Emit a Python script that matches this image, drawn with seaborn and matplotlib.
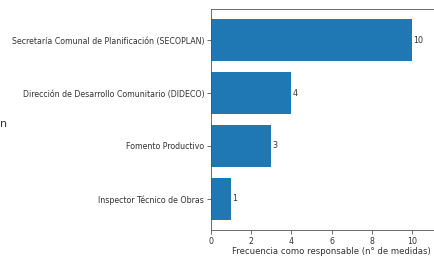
import matplotlib
matplotlib.use("Agg")
import matplotlib.pyplot as plt
import seaborn as sns
import pandas as pd

categories = [
    "Secretaría Comunal de Planificación (SECOPLAN)",
    "Dirección de Desarrollo Comunitario (DIDECO)",
    "Fomento Productivo",
    "Inspector Técnico de Obras",
]
values = [10, 4, 3, 1]
xticks = [0, 2, 4, 6, 8, 10]
xlabel = "Frecuencia como responsable (n° de medidas)"

df = pd.DataFrame({"cat": categories, "val": values})

W, H = 434, 258
fig = plt.figure(figsize=(W / 100, H / 100), dpi=100)
left, right, top, bottom = 211, 452, 9, 230
ax = fig.add_axes([left / W, 1 - bottom / H, (right - left) / W, (bottom - top) / H])

sns.barplot(data=df, x="val", y="cat", orient="h", color="#1f77b4",
            saturation=1, width=0.8, ax=ax, errorbar=None)
ax.set_xlim(0, 12)
ax.set_ylim(3.59, -0.59)
ax.set_xticks(xticks)
ax.set_xticklabels([str(t) for t in xticks])
ax.set_xlabel(xlabel, fontsize=6.1, color="#333333", labelpad=1)
ax.set_ylabel("")
ax.tick_params(axis="both", labelsize=5.7, labelcolor="#333333", length=3, width=0.6, pad=1.8, color="#555555")
for s in ax.spines.values():
    s.set_linewidth(0.6)
    s.set_color("#555555")
for c in ax.containers:
    ax.bar_label(c, padding=1, fontsize=5.8, color="#333333")

fig.text(0.001, 1 - 124 / H, "n", fontsize=8, color="#333333", va="center", ha="left")

fig.savefig("out.png", dpi=100)
